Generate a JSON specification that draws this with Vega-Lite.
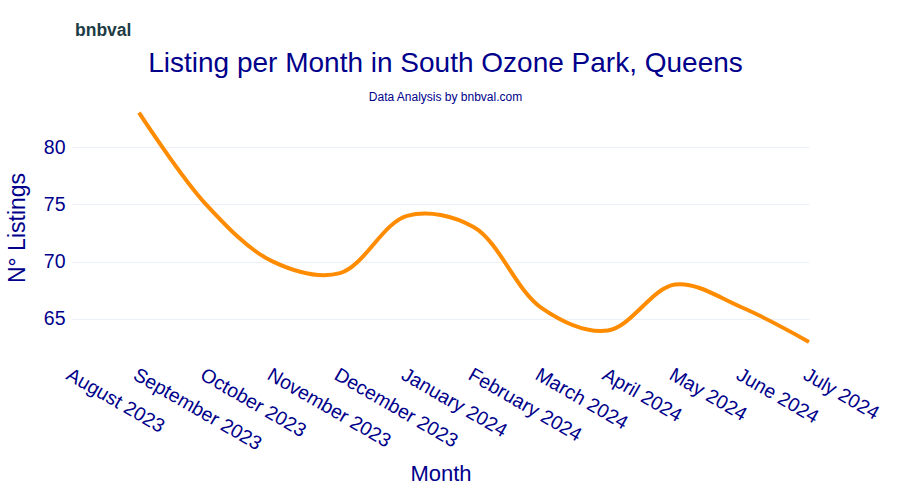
{
  "$schema": "https://vega.github.io/schema/vega-lite/v6.json",
  "autosize": {"type": "none"},
  "width": 737,
  "height": 255,
  "padding": {"left": 72, "top": 100, "right": 91, "bottom": 145},
  "background": "white",
  "config": {
    "view": {"stroke": null},
    "font": "Liberation Sans"
  },
  "title": {
    "text": "Listing per Month in South Ozone Park, Queens",
    "subtitle": "Data Analysis by bnbval.com",
    "anchor": "middle",
    "frame": "group",
    "fontSize": 28,
    "fontWeight": "normal",
    "color": "darkblue",
    "subtitleColor": "darkblue",
    "subtitleFontSize": 12,
    "subtitlePadding": 14,
    "offset": 2,
    "dx": 5,
    "dy": 83
  },
  "layer": [
    {
      "data": {
        "values": [
          {"month": "September 2023", "listings": 83},
          {"month": "October 2023", "listings": 75},
          {"month": "November 2023", "listings": 70},
          {"month": "December 2023", "listings": 69},
          {"month": "January 2024", "listings": 74},
          {"month": "February 2024", "listings": 73},
          {"month": "March 2024", "listings": 66},
          {"month": "April 2024", "listings": 64},
          {"month": "May 2024", "listings": 68},
          {"month": "June 2024", "listings": 66},
          {"month": "July 2024", "listings": 63}
        ]
      },
      "mark": {"type": "line", "color": "#FF8C00", "strokeWidth": 4, "interpolate": "catmull-rom"},
      "encoding": {
        "x": {
          "field": "month",
          "type": "ordinal",
          "scale": {
            "type": "point",
            "padding": 0,
            "domain": ["August 2023", "September 2023", "October 2023", "November 2023", "December 2023", "January 2024", "February 2024", "March 2024", "April 2024", "May 2024", "June 2024", "July 2024"]
          },
          "axis": {
            "title": "Month",
            "titleFontSize": 22,
            "titleFontWeight": "normal",
            "titleColor": "darkblue",
            "titlePadding": 10,
            "labelAngle": 30,
            "labelAlign": "left",
            "labelBaseline": "top",
            "labelFontSize": 19.5,
            "labelColor": "darkblue",
            "labelPadding": 10,
            "ticks": false,
            "domain": false,
            "gridColor": "#ebf0f8",
            "gridWidth": 1,
            "gridOpacity": {"condition": {"test": "datum.value === 'August 2023'", "value": 0}, "value": 1},
            "labelOverlap": false
          }
        },
        "y": {
          "field": "listings",
          "type": "quantitative",
          "scale": {"domain": [61.86, 84.1], "nice": false, "zero": false},
          "axis": {
            "title": "N° Listings",
            "titleFontSize": 23,
            "titleFontWeight": "normal",
            "titleColor": "darkblue",
            "titlePadding": 14,
            "values": [65, 70, 75, 80],
            "labelFontSize": 19.5,
            "labelColor": "darkblue",
            "labelPadding": 7,
            "ticks": false,
            "domain": false,
            "gridColor": "#ebf0f8",
            "gridWidth": 1
          }
        }
      }
    },
    {
      "data": {"values": [{"month": "August 2023", "listings": 89.7, "label": "bnbval"}]},
      "mark": {"type": "text", "align": "left", "baseline": "alphabetic", "dx": 3, "fontSize": 17.5, "fontWeight": "bold", "color": "#1d3c46", "font": "Liberation Sans"},
      "encoding": {
        "x": {"field": "month", "type": "ordinal"},
        "y": {"field": "listings", "type": "quantitative"},
        "text": {"field": "label"}
      }
    }
  ]
}
